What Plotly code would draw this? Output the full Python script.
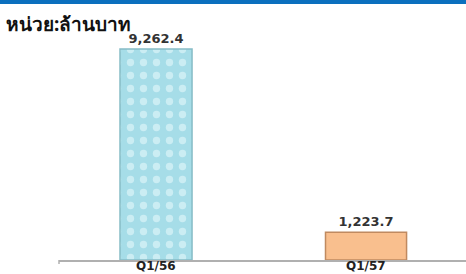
import plotly.graph_objects as go

categories = ["Q1/56", "Q1/57"]
values = [9262.4, 1223.7]
value_labels = ["9,262.4", "1,223.7"]
unit_title = "หน่วย:ล้านบาท"

bar_colors = ["#a6dde8", "#f9bf8e"]
edge_colors = ["#86bcc6", "#c08a60"]
bar_widths = [0.343, 0.386]
patterns = [".", ""]

L, R, T, B = 59, 0, 30, 14
W, H = 466, 274
pw = W - L - R
ph = H - T - B

fig = go.Figure()
for i in range(len(categories)):
    fig.add_trace(go.Bar(
        x=[categories[i]], y=[values[i]],
        width=[bar_widths[i]],
        marker=dict(
            color=bar_colors[i],
            line=dict(color=edge_colors[i], width=1.5),
            pattern=dict(shape=patterns[i], fillmode="overlay", fgcolor="#dcf4f9",
                         fgopacity=0.7, size=13, solidity=0.25),
        ),
        text=[value_labels[i]], textposition="outside",
        textfont=dict(family="DejaVu Sans", size=13, color="#333333", weight="bold"),
        cliponaxis=False,
        hoverinfo="skip",
    ))
    # category label just under the axis line
    fig.add_annotation(x=categories[i], y=0, xref="x", yref="paper",
                       text=categories[i], showarrow=False,
                       yanchor="middle", yshift=-6, borderpad=0,
                       font=dict(family="DejaVu Sans", size=12, color="#222222", weight="bold"))

fig.update_layout(
    width=W, height=H,
    margin=dict(l=L, r=R, t=T, b=B, autoexpand=False),
    paper_bgcolor="white", plot_bgcolor="white",
    showlegend=False,
    barmode="overlay",
    xaxis=dict(
        range=[-0.462, 1.476], showgrid=False, zeroline=False,
        showline=True, linecolor="#b0b0b0", linewidth=1.5,
        ticks="", showticklabels=False,
        automargin=False,
    ),
    yaxis=dict(range=[0, 10097], visible=False, showgrid=False, zeroline=False),
)

# top blue band
fig.add_shape(type="rect", xref="paper", yref="paper",
              x0=(0 - L) / pw, x1=(W - L) / pw,
              y0=1 + (T - 4) / ph, y1=1 + T / ph,
              line=dict(width=0), fillcolor="#0b6fbe", layer="above")
# left tick on axis line
fig.add_shape(type="line", xref="paper", yref="paper",
              x0=0, x1=0, y0=0, y1=-4 / ph,
              line=dict(color="#b0b0b0", width=1.5))

fig.add_annotation(text=unit_title, xref="paper", yref="paper",
                   x=(4 - L) / pw, y=1 + (T - 24) / ph,
                   xanchor="left", yanchor="middle", showarrow=False,
                   font=dict(family="Noto Sans, DejaVu Sans, sans-serif", size=19, color="#111111", weight="bold"))

fig.write_html("out.html", config={"displayModeBar": False},
               post_script="document.body.style.margin='0';")
